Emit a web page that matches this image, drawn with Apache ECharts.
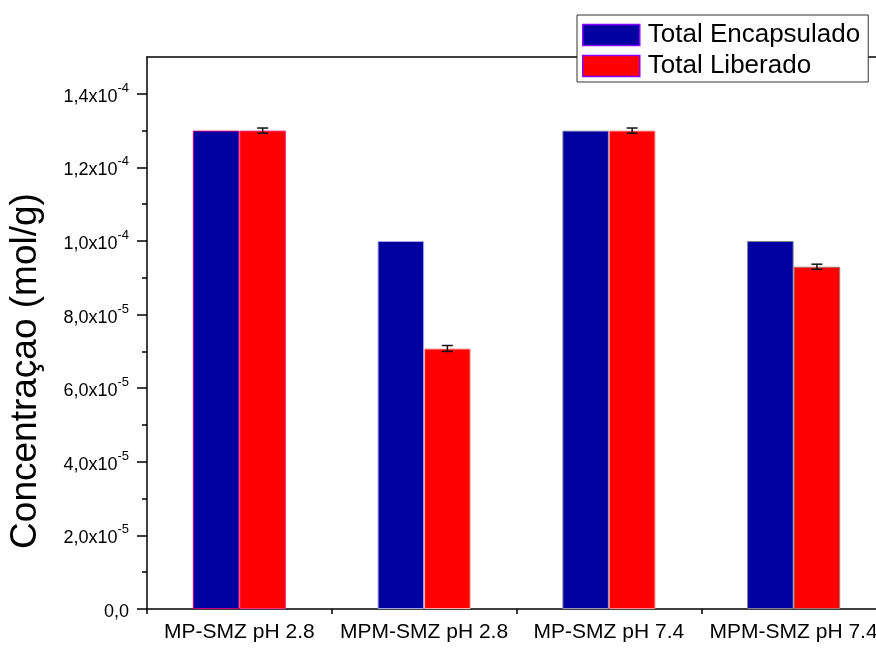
<!DOCTYPE html>
<html>
<head>
<meta charset="utf-8">
<script src="https://cdn.jsdelivr.net/npm/echarts@6/dist/echarts.min.js"></script>
<style>
  html, body { margin: 0; padding: 0; background: #fff; }
  #chart { width: 876px; height: 648px; }
</style>
</head>
<body>
<div id="chart"></div>
<script>
// Categories and measured concentrations (mol/g)
const categories = ['MP-SMZ pH 2.8', 'MPM-SMZ pH 2.8', 'MP-SMZ pH 7.4', 'MPM-SMZ pH 7.4'];
const seriesNames = ['Total Encapsulado', 'Total Liberado'];
const encapsulado = [1.30e-4, 1.00e-4, 1.30e-4, 1.00e-4];
const liberado = [1.30e-4, 7.08e-5, 1.30e-4, 9.30e-5];
const liberadoErr = [7e-7, 8e-7, 7e-7, 7e-7];

// Y axis ticks: major (labelled) and minor
const yMajorTicks = [0, 2e-5, 4e-5, 6e-5, 8e-5, 1.0e-4, 1.2e-4, 1.4e-4];
const yMinorTicks = [1e-5, 3e-5, 5e-5, 7e-5, 9e-5, 1.1e-4, 1.3e-4];
const yTickMantissa = ['0,0', '2,0x10', '4,0x10', '6,0x10', '8,0x10', '1,0x10', '1,2x10', '1,4x10'];
const yTickExponent = ['', '-5', '-5', '-5', '-5', '-4', '-4', '-4'];

const FONT = "'Liberation Sans', Arial, sans-serif";
const BLUE = '#0000a0';
const RED = '#ff0000';
const BAR_FRACTION = 0.252;
const encBorder = ['#c8007a', '#a8a8e8', '#9a9ac0', '#8080a0'];
const libBorder = ['#ff2a80', '#ffb0b0', '#ff8a8a', '#b07070'];

const chart = echarts.init(document.getElementById('chart'), null, { renderer: 'canvas' });

function yLabel(value) {
  let idx = -1;
  for (let i = 0; i < yMajorTicks.length; i++) {
    if (Math.abs(yMajorTicks[i] - value) < 1e-9) idx = i;
  }
  if (idx < 0) return '';
  if (!yTickExponent[idx]) return '{b|' + yTickMantissa[idx] + '}';
  return '{b|' + yTickMantissa[idx] + '}{s|' + yTickExponent[idx] + '}';
}

const option = {
  backgroundColor: '#ffffff',
  animation: false,
  textStyle: { fontFamily: FONT },
  // the plot frame runs past the right edge of the canvas
  grid: { left: 147, top: 57, width: 739, height: 552, containLabel: false, outerBoundsMode: 'none' },
  legend: {
    data: seriesNames,
    orient: 'vertical',
    left: 577,
    top: 15,
    padding: [7, 8, 3, 5],
    itemGap: 5,
    itemWidth: 57,
    itemHeight: 21,
    backgroundColor: '#ffffff',
    borderColor: '#333333',
    borderWidth: 1,
    icon: 'rect',
    itemStyle: { borderColor: '#8a00ff', borderWidth: 1.5 },
    textStyle: { fontSize: 26, color: '#000', fontFamily: FONT, padding: [0, 0, 0, 3] }
  },
  xAxis: [
    {
      type: 'category',
      data: categories,
      position: 'bottom',
      axisLine: { onZero: false, lineStyle: { color: '#000', width: 1.5 } },
      axisTick: { alignWithLabel: true, length: 8, lineStyle: { color: '#000', width: 1.5 } },
      axisLabel: { fontSize: 21, color: '#000', margin: 13, fontFamily: FONT, interval: 0 },
      splitLine: { show: false }
    },
    {
      type: 'category',
      data: categories,
      position: 'bottom',
      axisLine: { show: false, onZero: false },
      axisTick: { show: true, length: 5, lineStyle: { color: '#000', width: 1.5 } },
      axisLabel: { show: false },
      splitLine: { show: false }
    },
    {
      type: 'category',
      data: categories,
      position: 'top',
      axisLine: { show: true, onZero: false, lineStyle: { color: '#000', width: 1.5 } },
      axisTick: { show: false },
      axisLabel: { show: false },
      splitLine: { show: false }
    }
  ],
  yAxis: [
    {
      type: 'value',
      min: 0,
      max: 1.5e-4,
      position: 'left',
      axisLine: { show: true, onZero: false, lineStyle: { color: '#000', width: 1.5 } },
      axisTick: { show: true, customValues: yMajorTicks, length: 10, lineStyle: { color: '#000', width: 1.5 } },
      axisLabel: {
        customValues: yMajorTicks,
        margin: 18,
        color: '#000',
        formatter: yLabel,
        rich: {
          b: { fontSize: 18, fontFamily: FONT, color: '#000', lineHeight: 24, verticalAlign: 'bottom' },
          s: { fontSize: 13, fontFamily: FONT, color: '#000', lineHeight: 24, verticalAlign: 'top' }
        }
      },
      splitLine: { show: false }
    },
    {
      type: 'value',
      min: 0,
      max: 1.5e-4,
      position: 'left',
      axisLine: { show: false, onZero: false },
      axisTick: { show: true, customValues: yMinorTicks, length: 5, lineStyle: { color: '#000', width: 1.5 } },
      axisLabel: { show: false },
      splitLine: { show: false }
    }
  ],
  graphic: [
    {
      type: 'text',
      x: 26,
      y: 371,
      rotation: Math.PI / 2,
      style: {
        text: 'Concentraçao (mol/g)',
        font: '37px ' + FONT,
        fill: '#000',
        align: 'center',
        verticalAlign: 'middle'
      }
    }
  ],
  series: [
    {
      name: seriesNames[0],
      type: 'bar',
      xAxisIndex: 0,
      yAxisIndex: 0,
      barWidth: (BAR_FRACTION * 100) + '%',
      barGap: '0%',
      itemStyle: { color: BLUE, borderWidth: 1 },
      data: encapsulado.map((v, i) => ({ value: v, itemStyle: { borderColor: encBorder[i] } }))
    },
    {
      name: seriesNames[1],
      type: 'bar',
      xAxisIndex: 0,
      yAxisIndex: 0,
      barWidth: (BAR_FRACTION * 100) + '%',
      barGap: '0%',
      itemStyle: { color: RED, borderWidth: 1 },
      data: liberado.map((v, i) => ({ value: v, itemStyle: { borderColor: libBorder[i] } }))
    },
    {
      name: 'erro',
      type: 'custom',
      xAxisIndex: 0,
      yAxisIndex: 0,
      z: 10,
      encode: { x: 0, y: 1 },
      data: liberado.map((v, i) => [i, v, liberadoErr[i]]),
      renderItem: function (params, api) {
        const idx = api.value(0);
        const val = api.value(1);
        const err = api.value(2);
        const band = api.size([1, 0])[0];
        const cx = api.coord([idx, val])[0] + band * BAR_FRACTION / 2;
        const yTop = api.coord([idx, val + err])[1];
        const yBot = api.coord([idx, val - err])[1];
        const half = 5.5;
        const st = { stroke: '#111', lineWidth: 1.5 };
        return {
          type: 'group',
          children: [
            { type: 'line', shape: { x1: cx, y1: yTop, x2: cx, y2: yBot }, style: st },
            { type: 'line', shape: { x1: cx - half, y1: yTop, x2: cx + half, y2: yTop }, style: st },
            { type: 'line', shape: { x1: cx - half, y1: yBot, x2: cx + half, y2: yBot }, style: st }
          ]
        };
      }
    }
  ]
};

chart.setOption(option);
</script>
</body>
</html>
